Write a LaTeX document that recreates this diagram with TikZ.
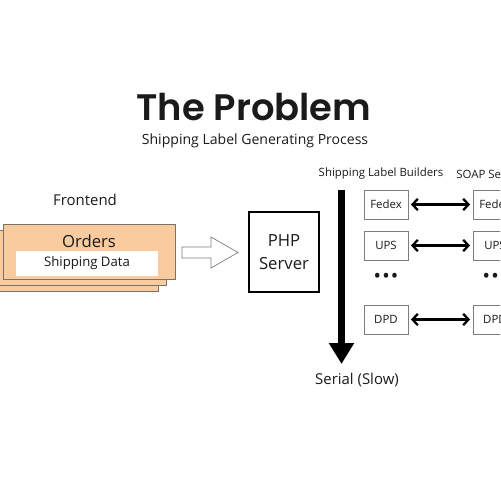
\documentclass[tikz,border=0pt]{standalone}
\usepackage{fontspec}
\setmainfont{Open Sans}
\newfontfamily\titlefont{Poppins SemiBold}
\usetikzlibrary{arrows.meta}
\definecolor{orderfill}{RGB}{249,203,158}
\definecolor{orderline}{RGB}{125,112,100}
\definecolor{boxline}{RGB}{125,125,125}
\definecolor{ink}{RGB}{26,26,26}

\begin{document}
\begin{tikzpicture}[x=0.02cm, y=-0.02cm, >={Straight Barb[length=3pt, width=6.5pt]},
    every node/.style={text=ink},
    order/.style={draw=orderline, fill=orderfill, minimum width=3.44cm, minimum height=1.1cm, inner sep=0pt},
    builder/.style={draw=boxline, minimum width=0.88cm, minimum height=0.58cm, inner sep=0pt, font=\fontsize{6.5}{8}\selectfont},
    caption/.style={inner sep=0pt, font=\fontsize{6.5}{8}\selectfont},
    dotrow/.style={inner sep=0pt, font=\bfseries\fontsize{9}{9}\selectfont},
    link/.style={<->, line width=1.3pt, shorten <=1.5pt, shorten >=1.5pt}]
  \useasboundingbox (0,0) rectangle (500,500);
  \clip (0,0) rectangle (500,500);

  % heading
  \node[inner sep=0pt, font=\titlefont\fontsize{21}{25}\selectfont] (title) at (254,107) {The Problem};
  \node[inner sep=0pt, font=\fontsize{8}{10}\selectfont] (subtitle) at (255,141) {Shipping Label Generating Process};

  % frontend
  \node[inner sep=0pt, font=\fontsize{8.5}{10}\selectfont] (frontend) at (85,200) {Frontend};
  \node[order] (order3) at (72.5,263.5) {};
  \node[order] (order2) at (80.5,257.5) {};
  \node[order] (order1) at (89,251.5) {};
  \node[inner sep=0pt, font=\fontsize{9.5}{11}\selectfont] (orders) at (89,241) {Orders};
  \node[fill=white, minimum width=2.84cm, minimum height=0.5cm, inner sep=0pt, font=\fontsize{7.5}{9}\selectfont] (data) at (87,263.5) {Shipping Data};

  % push to server
  \draw[boxline, fill=white] (182,247) -- (211,247) -- (211,237) -- (238,252.5)
    -- (211,268) -- (211,258) -- (182,258) -- cycle;

  % server
  \node[draw, line width=1.5pt, minimum width=1.4cm, minimum height=1.6cm, align=center,
    font=\fontsize{9.5}{13}\selectfont] (php) at (284,252) {PHP\\Server};

  % serial arrow
  \coordinate (top) at (341.5,190);
  \coordinate (bottom) at (341.5,364);
  \draw[line width=0.14cm, -{Triangle[width=0.48cm, length=0.42cm]}] (top) -- (bottom);
  \node[inner sep=0pt, font=\fontsize{8.5}{10}\selectfont] (serial) at (357,380) {Serial (Slow)};

  % builders and services
  \node[caption] (builders) at (381,174) {Shipping Label Builders};
  \node[caption, anchor=west] (soap) at (456,174) {SOAP Services};
  \node[builder] (fedex) at (386,204.5) {Fedex};
  \node[builder] (ups) at (386,245.5) {UPS};
  \node[dotrow] (dots) at (386,277) {•\,•\,•};
  \node[builder] (dpd) at (386,319.5) {DPD};
  \node[builder] (fedexsoap) at (495,204.5) {Fedex};
  \node[builder] (upssoap) at (495,245.5) {UPS};
  \node[dotrow] (dotssoap) at (495,277) {•\,•\,•};
  \node[builder] (dpdsoap) at (495,319.5) {DPD};
  \draw[link] (fedex) -- (fedexsoap);
  \draw[link] (ups) -- (upssoap);
  \draw[link] (dpd) -- (dpdsoap);
\end{tikzpicture}
\end{document}
